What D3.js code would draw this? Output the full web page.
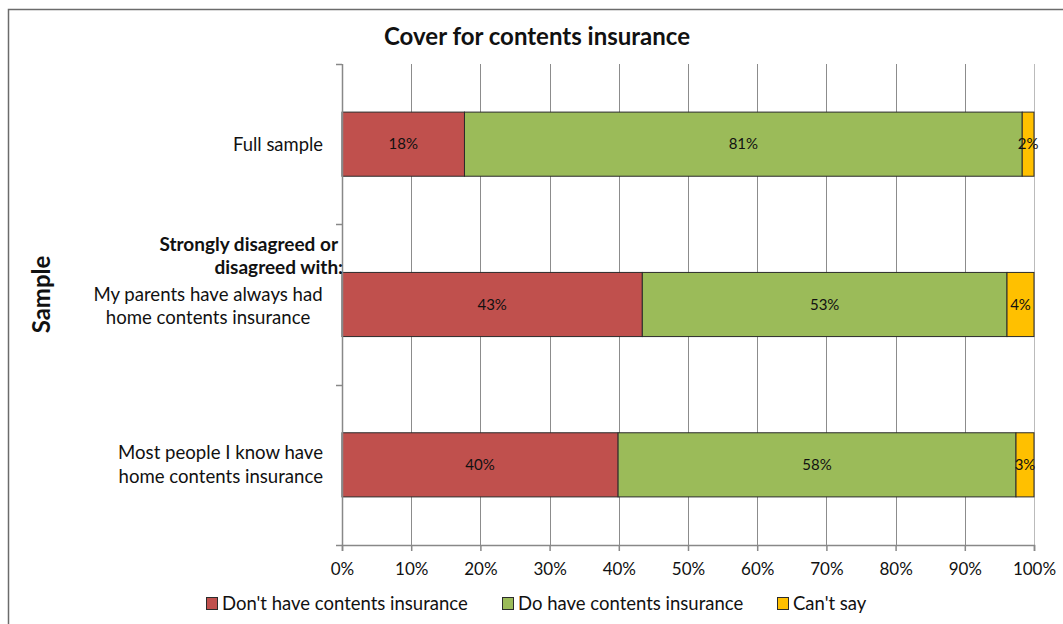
<!DOCTYPE html>
<html>
<head>
<meta charset="utf-8">
<script src="https://cdn.jsdelivr.net/npm/d3@7"></script>
<style>
  body { margin: 0; background: #fff; }
  text { font-family: Lato, "Open Sans", sans-serif; fill: #111; }
</style>
</head>
<body>
<svg id="chart" width="1063" height="624"></svg>
<script>
//Categories, top to bottom
let categories = ["full", "parents", "people"];
//Series values in percent, one entry per category
let dontHave = [17.7, 43.4, 39.9];
let doHave = [80.6, 52.7, 57.5];
let cantSay = [1.7, 3.9, 2.6];
//Series names for the legend
let seriesNames = ["Don't have contents insurance", "Do have contents insurance", "Can't say"];
let seriesColors = ["#C0504D", "#9BBB59", "#FFC000"];
//X tick values
let xTicks = [0, 10, 20, 30, 40, 50, 60, 70, 80, 90, 100];

let svg = d3.select("#chart");
let margin = { top: 64, left: 342, right: 29, bottom: 79 };
let width = 1063 - margin.left - margin.right;
let height = 624 - margin.top - margin.bottom;

//outer chart border (right/bottom edges fall outside the picture)
svg.append("rect").attr("x", 8.5).attr("y", 9.5).attr("width", 1080).attr("height", 640)
  .attr("fill", "none").attr("stroke", "#6b6b6b").attr("stroke-width", 1.5);

let x = d3.scaleLinear().domain([0, 100]).range([0, width]);
let y = d3.scaleBand().domain(categories).range([0, height]).paddingInner(0.6).paddingOuter(0.3);
let yBand = d3.scaleBand().domain(categories).range([0, height]);

let g = svg.append("g").attr("transform", "translate(" + margin.left + "," + margin.top + ")");

//gridlines
g.selectAll(".grid").data(xTicks.slice(1)).enter().append("line")
  .attr("class", "grid")
  .attr("x1", function (d) { return Math.round(x(d)) + 0.5; })
  .attr("x2", function (d) { return Math.round(x(d)) + 0.5; })
  .attr("y1", 0).attr("y2", height)
  .attr("stroke", function (d) { return d === 100 ? "#bbb" : "#8c8c8c"; }).attr("stroke-width", 1);

//stack the series
let rows = categories.map(function (c, i) {
  return { cat: c, s0: dontHave[i], s1: doHave[i], s2: cantSay[i] };
});
let stack = d3.stack().keys(["s0", "s1", "s2"])(rows);

let layers = g.selectAll(".layer").data(stack).enter().append("g")
  .attr("class", "layer")
  .attr("fill", function (d, i) { return seriesColors[i]; });

layers.selectAll("rect").data(function (d) { return d; }).enter().append("rect")
  .attr("x", function (d) { return x(d[0]); })
  .attr("y", function (d) { return y(d.data.cat); })
  .attr("width", function (d) { return x(d[1]) - x(d[0]); })
  .attr("height", y.bandwidth())
  .attr("stroke", "#2b2b2b").attr("stroke-width", 1);

layers.selectAll(".label").data(function (d) { return d; }).enter().append("text")
  .attr("class", "label")
  .attr("text-anchor", "middle")
  .attr("dy", "0.35em")
  .attr("x", function (d) { return (x(d[0]) + x(d[1])) / 2; })
  .attr("y", function (d) { return y(d.data.cat) + y.bandwidth() / 2; })
  .style("font-size", "15px")
  .text(function (d) { return Math.round(d[1] - d[0]) + "%"; });

//y axis (category ticks at band boundaries)
let yEdges = categories.map(function (c) { return yBand(c); }).concat([height]);
g.append("line").attr("x1", 0.5).attr("x2", 0.5).attr("y1", 0).attr("y2", height)
  .attr("stroke", "#888").attr("stroke-width", 1.5);
g.selectAll(".ytick").data(yEdges).enter().append("line")
  .attr("x1", -6).attr("x2", 0)
  .attr("y1", function (d) { return Math.round(d) + 0.5; })
  .attr("y2", function (d) { return Math.round(d) + 0.5; })
  .attr("stroke", "#888").attr("stroke-width", 1.5);

//x axis
let xAxis = g.append("g").attr("transform", "translate(0," + height + ")")
  .call(d3.axisBottom(x).tickValues(xTicks).tickSize(6).tickPadding(12)
    .tickFormat(function (d) { return d + "%"; }));
xAxis.select(".domain").attr("stroke", "#888").attr("stroke-width", 1.5);
xAxis.selectAll(".tick line").attr("stroke", "#888").attr("stroke-width", 1.5);
xAxis.selectAll("text").style("font-size", "17px").style("font-family", "Lato, sans-serif").attr("fill", "#111");

//category labels
function bandMid(c) { return yBand(c) + yBand.bandwidth() / 2; }
g.append("text").attr("text-anchor", "end").attr("x", -19).attr("y", bandMid("full")).attr("dy", "0.35em")
  .style("font-size", "18.4px").text("Full sample");

let c2 = bandMid("parents");
g.append("text").attr("text-anchor", "end").attr("x", -4).attr("y", c2 - 60).attr("dy", "0.35em")
  .style("font-size", "19px").style("font-weight", "bold").text("Strongly disagreed or");
g.append("text").attr("text-anchor", "end").attr("x", 1).attr("y", c2 - 37).attr("dy", "0.35em")
  .style("font-size", "19px").style("font-weight", "bold").text("disagreed with:");
g.append("text").attr("text-anchor", "middle").attr("x", -134).attr("y", c2 - 10).attr("dy", "0.35em")
  .style("font-size", "18.6px").text("My parents have always had");
g.append("text").attr("text-anchor", "middle").attr("x", -134).attr("y", c2 + 13).attr("dy", "0.35em")
  .style("font-size", "18.6px").text("home contents insurance");

let c3 = bandMid("people");
g.append("text").attr("text-anchor", "end").attr("x", -19).attr("y", c3 - 12).attr("dy", "0.35em")
  .style("font-size", "18.6px").text("Most people I know have");
g.append("text").attr("text-anchor", "end").attr("x", -19).attr("y", c3 + 12).attr("dy", "0.35em")
  .style("font-size", "18.6px").text("home contents insurance");

//title
svg.append("text").attr("text-anchor", "middle").attr("x", 537).attr("y", 37).attr("dy", "0.35em")
  .style("font-size", "24px").style("font-weight", "bold").text("Cover for contents insurance");

//y axis name
svg.append("text").attr("text-anchor", "middle")
  .attr("transform", "translate(42," + (margin.top + height / 2 - 10) + ") rotate(-90)")
  .attr("dy", "0.35em")
  .style("font-size", "24px").style("font-weight", "bold").text("Sample");

//legend
let legendX = [206, 502, 777];
let legend = svg.selectAll(".legend").data(seriesNames).enter().append("g")
  .attr("class", "legend")
  .attr("transform", function (d, i) { return "translate(" + legendX[i] + ",604)"; });
legend.append("rect").attr("x", 0.5).attr("y", -6.5).attr("width", 11).attr("height", 12)
  .attr("fill", function (d, i) { return seriesColors[i]; })
  .attr("stroke", "#2b2b2b").attr("stroke-width", 1);
legend.append("text").attr("x", 16).attr("dy", "0.35em").style("font-size", "18.5px")
  .text(function (d) { return d; });
</script>
</body>
</html>
